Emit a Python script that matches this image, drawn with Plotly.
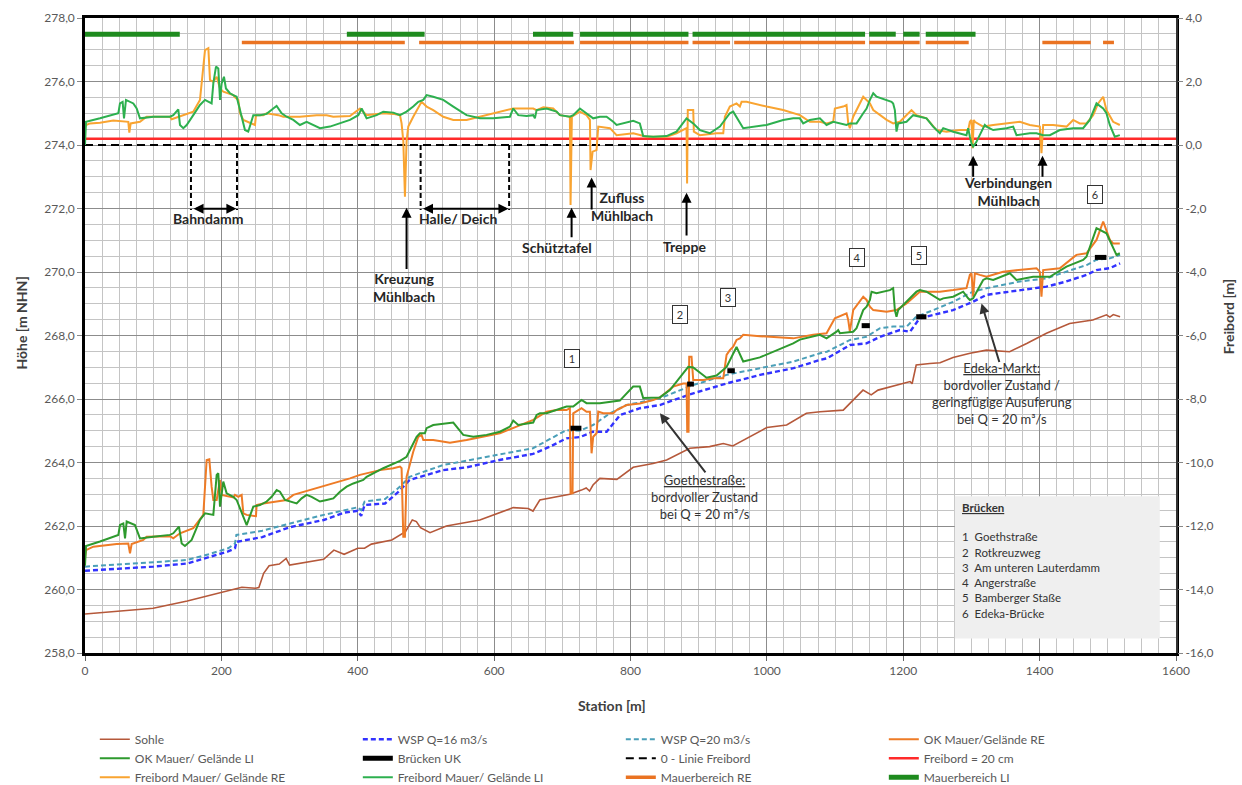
import plotly.graph_objects as go

# ---------------- DATA ----------------
SOHLE_X = [0, 50, 100, 150, 200, 220, 230, 250, 255, 262, 270, 285, 295, 300, 350, 365, 380, 400, 410, 420, 450, 470, 480, 486, 492, 506, 530, 579, 628, 650, 657, 667, 711, 728, 735, 740, 745, 755, 780, 804, 833, 853, 867, 887, 916, 936, 950, 975, 1000, 1029, 1058, 1078, 1112, 1141, 1153, 1163, 1190, 1210, 1213, 1219, 1239, 1254, 1273, 1298, 1322, 1356, 1381, 1410, 1444, 1478, 1498, 1503, 1508, 1518]
SOHLE_H = [259.23, 259.33, 259.41, 259.64, 259.91, 260.03, 260.07, 260.04, 260.06, 260.51, 260.75, 260.8, 260.98, 260.77, 260.95, 261.24, 261.11, 261.3, 261.3, 261.43, 261.56, 261.82, 262.19, 262.14, 261.95, 261.79, 262.0, 262.19, 262.58, 262.55, 262.47, 262.82, 263.0, 263.13, 263.2, 263.1, 263.29, 263.5, 263.47, 263.85, 263.97, 264.08, 264.24, 264.45, 264.5, 264.6, 264.52, 264.81, 265.1, 265.18, 265.55, 265.6, 265.65, 266.28, 266.13, 266.28, 266.44, 266.55, 266.48, 267.07, 267.12, 267.14, 267.31, 267.44, 267.54, 267.49, 267.75, 268.07, 268.38, 268.49, 268.65, 268.58, 268.66, 268.59]

WSP16_X = [0, 50, 100, 150, 180, 210, 220, 222, 260, 300, 350, 380, 400, 405, 410, 440, 460, 476, 525, 560, 608, 657, 682, 706, 726, 745, 765, 785, 814, 843, 892, 941, 990, 1039, 1078, 1088, 1122, 1146, 1166, 1180, 1195, 1210, 1219, 1224, 1273, 1302, 1322, 1371, 1410, 1439, 1469, 1483, 1503, 1518]
WSP16_H = [260.59, 260.66, 260.72, 260.82, 261.0, 261.2, 261.3, 261.5, 261.65, 261.96, 262.19, 262.42, 262.48, 262.32, 262.66, 262.71, 263.08, 263.45, 263.76, 263.85, 264.08, 264.27, 264.5, 264.76, 264.8, 264.97, 264.97, 265.5, 265.71, 265.81, 266.18, 266.49, 266.76, 266.97, 267.23, 267.28, 267.7, 267.75, 267.96, 268.07, 268.17, 268.12, 268.38, 268.54, 268.8, 269.06, 269.28, 269.43, 269.54, 269.7, 269.91, 270.06, 270.12, 270.27]

WSP20_X = [0, 50, 100, 150, 180, 210, 220, 222, 260, 300, 350, 400, 405, 410, 440, 462, 476, 525, 608, 657, 706, 726, 745, 770, 794, 843, 892, 941, 990, 1039, 1078, 1088, 1122, 1146, 1166, 1185, 1205, 1219, 1244, 1273, 1302, 1322, 1371, 1410, 1439, 1469, 1483, 1503, 1518]
WSP20_H = [260.72, 260.79, 260.85, 260.93, 261.1, 261.3, 261.45, 261.72, 261.85, 262.08, 262.35, 262.59, 262.5, 262.77, 262.85, 263.24, 263.55, 263.92, 264.24, 264.45, 265.02, 265.0, 265.18, 265.55, 265.81, 266.02, 266.44, 266.76, 266.97, 267.18, 267.44, 267.49, 267.86, 267.96, 268.23, 268.28, 268.28, 268.59, 268.8, 269.06, 269.38, 269.49, 269.7, 269.8, 270.01, 270.22, 270.38, 270.43, 270.54]

OK_LI_X = [0, 1.5, 22, 48.9, 51.3, 56.2, 58.7, 61.1, 73.3, 75.8, 80.6, 100.2, 124.6, 129.5, 137.8, 141.8, 146.6, 156.4, 168.6, 176, 188.2, 193.1, 195.5, 198, 202.8, 207.7, 217.5, 222.4, 237.1, 246.8, 256.6, 266.4, 273.7, 281.1, 285.9, 293.3, 303.1, 310.4, 317.7, 325, 332.4, 339.7, 344.6, 354.4, 364.2, 373.9, 383.7, 393.5, 408.1, 413, 437.4, 461.9, 471.6, 486.3, 491.2, 498.5, 500.9, 510.7, 535.2, 540.1, 554.7, 569.4, 588.9, 608.5, 623.2, 628, 635.4, 657.4, 662.3, 667.2, 676.9, 706.2, 716, 728.2, 735.5, 755.1, 784.4, 803.9, 813.7, 818.6, 843.1, 857.8, 884.7, 892, 911.5, 926.2, 940.9, 955.5, 965.3, 989.7, 1038.6, 1048.4, 1077.7, 1087.5, 1102.2, 1104.6, 1107.1, 1126.6, 1131.5, 1141.3, 1146.2, 1151.1, 1153.5, 1160.8, 1180.4, 1185.2, 1187.7, 1190.1, 1192.6, 1204.8, 1219.4, 1224.3, 1234.1, 1253.7, 1258.6, 1273.2, 1287.9, 1295.2, 1297.7, 1302.5, 1307.4, 1317.2, 1322.1, 1331.9, 1356.3, 1366.1, 1390.5, 1415, 1439.4, 1463.8, 1468.7, 1483.4, 1498, 1507.8, 1512.7, 1517.6]
OK_LI_H = [260.75, 261.37, 261.51, 261.72, 262.03, 262.08, 261.61, 262.14, 262.03, 261.87, 261.61, 261.66, 261.72, 261.77, 261.98, 261.45, 261.37, 261.56, 262.19, 262.4, 262.35, 263.61, 263.66, 262.61, 263.4, 263.03, 262.92, 262.82, 262.03, 262.61, 262.66, 262.77, 262.92, 263.13, 263.08, 262.82, 262.77, 262.71, 262.87, 262.98, 262.92, 262.82, 262.77, 262.82, 262.87, 263.08, 263.24, 263.34, 263.45, 263.55, 263.82, 264.05, 264.18, 264.81, 264.92, 264.92, 265.08, 265.18, 265.24, 265.26, 264.87, 264.81, 264.87, 264.97, 265.13, 265.32, 265.18, 265.26, 265.5, 265.55, 265.55, 265.76, 265.76, 265.97, 265.87, 265.87, 265.95, 266.39, 266.39, 266.03, 266.05, 266.28, 267.01, 266.99, 266.67, 266.74, 267.01, 267.64, 267.18, 267.31, 267.75, 267.87, 268.02, 267.91, 268.12, 268.17, 268.07, 268.12, 268.23, 268.8, 268.91, 269.12, 269.38, 269.33, 269.43, 269.49, 268.8, 268.59, 268.8, 269.07, 269.38, 269.43, 269.38, 269.12, 269.17, 269.22, 269.38, 269.17, 269.12, 269.17, 269.38, 269.75, 269.8, 269.75, 269.96, 269.75, 269.85, 269.85, 270.17, 270.38, 270.48, 271.38, 271.22, 270.75, 270.54, 270.59]

OK_RE_X = [0, 1.5, 12.2, 31.8, 46.4, 63.5, 66, 68.4, 85.5, 90.4, 105.1, 124.6, 129.5, 139.3, 158.8, 173.5, 178.4, 182.3, 185.7, 188.2, 193.1, 197.9, 200.4, 217.5, 219.9, 224.8, 229.7, 232.2, 237.1, 250.7, 251.7, 261.5, 281, 295.7, 305.5, 339.7, 364.1, 388.6, 403.2, 413, 432.6, 452.1, 461.9, 464.3, 466.8, 469.2, 471.6, 481.4, 488.8, 493.6, 496.1, 510.7, 535.2, 559.6, 584.1, 608.5, 632.9, 657.4, 676.9, 691.6, 706.2, 711.1, 712.1, 715, 716, 728.2, 735.5, 740.5, 742.9, 745.3, 750.2, 752.7, 760, 774.7, 779.6, 794.3, 813.8, 833.3, 843.1, 862.6, 877.3, 882.2, 883.2, 885.1, 886.1, 889.5, 892, 906.7, 921.3, 936, 940.9, 945.7, 950.6, 955.5, 960.4, 965.3, 989.7, 1038.6, 1067.9, 1087.5, 1099.7, 1116.8, 1119.3, 1121.7, 1126.6, 1141.3, 1146.2, 1151.1, 1156, 1175.6, 1190.1, 1204.8, 1224.3, 1239, 1253.7, 1273.2, 1292.7, 1297.7, 1300.1, 1302.5, 1305, 1312.3, 1322.1, 1346.5, 1371, 1395.4, 1400.3, 1402.7, 1405.2, 1429.6, 1454, 1468.7, 1483.4, 1493.2, 1503, 1507.8, 1517.6]
OK_RE_H = [261.0, 261.24, 261.35, 261.4, 261.43, 261.45, 261.14, 261.43, 261.56, 261.66, 261.66, 261.68, 261.61, 261.77, 261.93, 262.35, 264.08, 264.1, 263.24, 262.82, 262.82, 263.45, 262.98, 262.9, 262.98, 262.92, 262.98, 262.4, 262.35, 262.31, 262.66, 262.71, 262.77, 262.82, 262.98, 263.19, 263.34, 263.5, 263.61, 263.66, 263.76, 263.82, 263.87, 263.82, 261.66, 261.66, 263.55, 264.34, 264.81, 264.87, 264.71, 264.71, 264.62, 264.71, 264.81, 264.92, 265.13, 265.34, 265.6, 265.65, 265.65, 265.71, 263.03, 263.03, 265.55, 265.71, 265.6, 265.6, 264.29, 264.81, 264.92, 265.6, 265.55, 265.55, 265.65, 265.81, 265.86, 265.97, 266.05, 266.39, 266.49, 266.49, 264.97, 264.97, 267.33, 267.33, 266.6, 266.6, 266.65, 266.65, 267.39, 267.54, 267.65, 267.86, 267.91, 268.02, 267.98, 267.91, 268.02, 268.07, 268.54, 268.7, 268.49, 268.12, 268.8, 269.22, 269.12, 268.91, 268.8, 268.75, 268.8, 269.01, 269.38, 269.38, 269.38, 269.43, 269.49, 269.91, 269.96, 269.22, 269.96, 269.91, 269.85, 270.01, 270.06, 270.12, 270.01, 269.22, 270.06, 270.12, 270.54, 270.59, 271.01, 271.59, 271.01, 270.9, 270.9]

FB_RE_X = [0, 1.5, 7.3, 22, 41.5, 56.2, 63.5, 65, 67, 80.6, 90.4, 105.1, 124.6, 127.1, 139.3, 158.8, 168.6, 176, 180.9, 183.3, 188.2, 193.1, 198, 202.8, 217.5, 219.9, 224.8, 227.3, 232.2, 249.3, 250.7, 261.5, 266.4, 283.5, 290.8, 315.2, 339.7, 354.4, 364.1, 388.6, 403.2, 413, 437.4, 452.1, 461.9, 464.3, 466.8, 469.2, 471.6, 474.1, 481.4, 491.2, 493.6, 501, 510.7, 525.4, 540.1, 559.6, 579.2, 598.7, 618.3, 628, 657.4, 662.3, 672.1, 686.7, 696.5, 711.1, 712.1, 714, 725.8, 735.5, 740.5, 741.4, 744.4, 750.2, 752.7, 769.8, 774.7, 779.6, 804, 823.5, 852.9, 867.5, 882.2, 883, 884, 892, 892.9, 901.8, 926.2, 936, 938.4, 945.7, 955.5, 960.4, 962.9, 970.2, 999.5, 1023.9, 1048.4, 1063, 1077.7, 1087.5, 1097.3, 1099.7, 1111.9, 1116.8, 1119.3, 1121.7, 1126.6, 1141.3, 1151.1, 1156, 1175.6, 1185.2, 1195, 1204.8, 1212.1, 1219.4, 1234.1, 1248.8, 1263.4, 1283, 1295.2, 1297.7, 1300.1, 1301.6, 1303.5, 1305, 1317.2, 1331.9, 1351.4, 1371, 1385.6, 1400.3, 1402.7, 1405.2, 1419.8, 1439.4, 1449.2, 1458.9, 1468.7, 1478.5, 1485.8, 1493.2, 1498, 1507.8, 1517.6]
FB_RE_V = [0.55, 0.63, 0.68, 0.7, 0.77, 0.73, 0.73, 0.39, 0.68, 0.73, 0.89, 0.89, 0.89, 0.81, 0.91, 1.05, 1.42, 2.99, 3.05, 2.05, 1.99, 2.15, 1.78, 1.68, 1.57, 1.5, 1.42, 1.0, 0.79, 0.63, 0.94, 0.94, 1.0, 0.94, 0.89, 0.89, 0.94, 0.94, 0.89, 0.91, 1.15, 0.94, 1.0, 0.98, 0.94, 0.68, 0.12, -1.63, 0.12, 0.58, 0.89, 1.31, 1.36, 1.21, 1.1, 0.89, 0.79, 0.79, 0.89, 1.0, 1.1, 1.15, 1.15, 1.1, 1.19, 1.15, 0.94, 0.89, -1.89, 0.89, 1.05, 0.94, 0.79, -0.79, -0.21, -0.16, 0.58, 0.53, 0.42, 0.31, 0.37, 0.26, 0.26, 0.37, 0.53, -1.21, 1.1, 1.1, 0.42, 0.31, 0.37, 0.37, 0.89, 1.21, 1.31, 1.21, 1.36, 1.36, 1.21, 1.1, 0.94, 0.73, 0.73, 0.68, 0.73, 1.15, 1.21, 1.26, 0.68, 0.53, 0.89, 1.52, 1.31, 1.1, 0.79, 0.68, 0.73, 0.94, 1.1, 0.94, 0.84, 0.47, 0.42, 0.47, 0.47, 0.73, 0.79, -0.1, 0.79, 0.73, 0.58, 0.63, 0.68, 0.73, 0.63, 0.58, -0.26, 0.63, 0.63, 0.58, 0.79, 0.68, 0.68, 0.94, 1.31, 1.52, 1.1, 0.73, 0.63]

FB_LI_X = [0, 1.5, 22, 41.5, 48.9, 51.3, 55.2, 57.2, 60.1, 70.9, 75.8, 80.6, 100.2, 124.6, 129.5, 136.8, 139.3, 144.2, 149.1, 158.8, 168.6, 176, 185.7, 188.2, 192.1, 195.5, 198, 200.4, 203.8, 206.7, 212.6, 217.5, 222.4, 227.3, 234.6, 239.4, 246.8, 256.6, 266.4, 276.1, 281, 288.4, 295.7, 305.5, 315.2, 325, 334.8, 344.6, 359.2, 373.9, 388.6, 400.8, 405.7, 413, 427.7, 437.4, 452.1, 461.9, 471.6, 481.4, 488.8, 496.1, 501, 510.7, 525.4, 540.1, 559.6, 579.2, 598.7, 623.2, 628, 635.4, 647.6, 657.4, 659.8, 662.3, 676.9, 691.6, 696.5, 711.1, 716, 725.8, 735.5, 745.3, 755.1, 764.9, 774.7, 779.6, 804, 813.7, 818.6, 833.3, 852.9, 867.5, 882.2, 892, 901.8, 916.4, 931.1, 945.7, 950.6, 965.3, 999.5, 1023.9, 1038.6, 1048.4, 1053.3, 1063, 1077.7, 1087.5, 1097.3, 1107.1, 1116.8, 1121.7, 1131.5, 1141.3, 1146.2, 1151.1, 1156, 1160.8, 1175.6, 1182.8, 1185.2, 1187.7, 1190.1, 1192.6, 1204.8, 1214.6, 1224.3, 1234.1, 1243.9, 1253.7, 1258.6, 1273.2, 1292.7, 1295.2, 1297.7, 1300.1, 1302.5, 1307.4, 1317.2, 1319.6, 1322.1, 1331.9, 1351.4, 1361.2, 1366.1, 1385.6, 1395.4, 1405.2, 1415, 1429.6, 1449.2, 1463.8, 1473.6, 1483.4, 1493.2, 1498, 1502.9, 1510.2, 1517.6]
FB_LI_V = [0.0, 0.73, 0.84, 0.94, 1.0, 1.31, 1.36, 0.84, 1.42, 1.31, 1.15, 0.84, 0.89, 0.89, 0.94, 1.12, 0.63, 0.53, 0.63, 0.94, 1.26, 1.42, 1.31, 1.94, 2.47, 2.41, 1.42, 1.94, 2.15, 1.78, 1.63, 1.57, 1.52, 1.1, 0.47, 0.42, 0.94, 0.94, 0.98, 1.15, 1.23, 1.0, 0.89, 0.79, 0.63, 0.73, 0.63, 0.53, 0.58, 0.68, 0.79, 0.94, 1.15, 0.84, 0.94, 1.05, 1.02, 0.94, 1.05, 1.21, 1.36, 1.42, 1.57, 1.52, 1.42, 1.21, 0.94, 0.84, 0.84, 0.89, 1.15, 0.94, 0.91, 0.94, 0.84, 1.1, 1.15, 1.05, 0.94, 0.89, 0.94, 1.15, 1.0, 0.84, 0.89, 0.89, 0.73, 0.63, 0.76, 0.68, 0.28, 0.26, 0.28, 0.42, 0.84, 0.68, 0.47, 0.37, 0.58, 1.0, 1.05, 0.53, 0.63, 0.79, 0.84, 0.84, 0.68, 0.79, 0.84, 0.63, 0.73, 0.68, 0.63, 0.68, 0.68, 1.0, 1.15, 1.42, 1.63, 1.52, 1.42, 1.36, 1.31, 1.1, 0.42, 0.68, 0.73, 0.94, 0.89, 0.84, 0.58, 0.37, 0.53, 0.42, 0.31, 0.53, 0.26, 0.05, -0.05, 0.1, 0.53, 0.63, 0.58, 0.47, 0.53, 0.58, 0.31, 0.37, 0.37, 0.31, 0.31, 0.47, 0.53, 0.53, 0.79, 1.31, 1.15, 1.0, 0.63, 0.26, 0.31]

MAUER_RE_SEGMENTS = [(230, 469), (490, 717), (726, 885), (891, 946), (952, 1144), (1150, 1224), (1233, 1296), (1404, 1475), (1493, 1509)]
MAUER_RE_LEVEL = 3.23
MAUER_LI_SEGMENTS = [(0, 139), (384, 498), (657, 716), (726, 885), (891, 1144), (1150, 1189), (1200, 1224), (1233, 1306)]
MAUER_LI_LEVEL = 3.49

BRUECKE_X0 = [712, 883, 942, 1139, 1219, 1481]
BRUECKE_X1 = [728, 893, 953, 1151, 1234, 1498]
BRUECKE_H = [265.08, 266.47, 266.89, 268.31, 268.59, 270.46]
BRUECKE_NR = ["1", "2", "3", "4", "5", "6"]
BRUECKE_NAMES = ["Goethstraße", "Rotkreuzweg", "Am unteren Lauterdamm", "Angerstraße", "Bamberger Staße", "Edeka-Brücke"]

FREIBORD_LIMIT = 0.2
NULL_LINE = 0.0
STATION_RANGE = [0, 1600]

Y_TICKS = [258, 260, 262, 264, 266, 268, 270, 272, 274, 276, 278]
Y_TICKTEXT = ["258,0", "260,0", "262,0", "264,0", "266,0", "268,0", "270,0", "272,0", "274,0", "276,0", "278,0"]
Y2_TICKS = [-16, -14, -12, -10, -8, -6, -4, -2, 0, 2, 4]
Y2_TICKTEXT = ["-16,0", "-14,0", "-12,0", "-10,0", "-8,0", "-6,0", "-4,0", "-2,0", "0,0", "2,0", "4,0"]
X_TICKS = [0, 200, 400, 600, 800, 1000, 1200, 1400, 1600]

# ---------------- FIGURE ----------------
FONT = "Lato"
TXT = "#262626"


def segments(pairs, level):
    xs, ys = [], []
    for a, b in pairs:
        xs += [a, b, None]
        ys += [level, level, None]
    return xs, ys


fig = go.Figure()

fig.add_trace(go.Scatter(x=SOHLE_X, y=SOHLE_H, mode="lines", name="Sohle",
                         line=dict(color="#B5583A", width=1.6)))
fig.add_trace(go.Scatter(x=WSP16_X, y=WSP16_H, mode="lines", name="WSP Q=16 m3/s",
                         line=dict(color="#3232FF", width=2.4, dash="5px,3px")))
fig.add_trace(go.Scatter(x=WSP20_X, y=WSP20_H, mode="lines", name="WSP Q=20 m3/s",
                         line=dict(color="#4A9FB8", width=2.0, dash="5px,3px")))
fig.add_trace(go.Scatter(x=OK_RE_X, y=OK_RE_H, mode="lines", name="OK Mauer/Gelände RE",
                         line=dict(color="#EE7B26", width=2.0)))
fig.add_trace(go.Scatter(x=OK_LI_X, y=OK_LI_H, mode="lines", name="OK Mauer/ Gelände LI",
                         line=dict(color="#2E9A2E", width=2.0)))

bx, by = [], []
for a, b, h in zip(BRUECKE_X0, BRUECKE_X1, BRUECKE_H):
    bx += [a, b, None]
    by += [h, h, None]
fig.add_trace(go.Scatter(x=bx, y=by, mode="lines", name="Brücken UK",
                         line=dict(color="black", width=5)))

fig.add_trace(go.Scatter(x=STATION_RANGE, y=[NULL_LINE, NULL_LINE], mode="lines",
                         name="0 - Linie Freibord", yaxis="y2",
                         line=dict(color="black", width=2, dash="8px,5px")))
fig.add_trace(go.Scatter(x=STATION_RANGE, y=[FREIBORD_LIMIT, FREIBORD_LIMIT], mode="lines",
                         name="Freibord = 20 cm", yaxis="y2",
                         line=dict(color="#FF2A2A", width=2.5)))
fig.add_trace(go.Scatter(x=FB_RE_X, y=FB_RE_V, mode="lines", name="Freibord Mauer/ Gelände RE",
                         yaxis="y2", line=dict(color="#F9A431", width=2.0)))
fig.add_trace(go.Scatter(x=FB_LI_X, y=FB_LI_V, mode="lines", name="Freibord Mauer/ Gelände LI",
                         yaxis="y2", line=dict(color="#2DB04F", width=2.0)))

mx, my = segments(MAUER_RE_SEGMENTS, MAUER_RE_LEVEL)
fig.add_trace(go.Scatter(x=mx, y=my, mode="lines", name="Mauerbereich RE", yaxis="y2",
                         line=dict(color="#EA7322", width=3.5)))
mx, my = segments(MAUER_LI_SEGMENTS, MAUER_LI_LEVEL)
fig.add_trace(go.Scatter(x=mx, y=my, mode="lines", name="Mauerbereich LI", yaxis="y2",
                         line=dict(color="#1E8B1E", width=5)))

shapes = []
# dashed brackets
for xa in (155.4, 222.9, 492.2, 622.0):
    shapes.append(dict(type="line", xref="x", yref="y", x0=xa, x1=xa, y0=274.0, y1=271.95,
                       line=dict(color="black", width=2, dash="5px,3px")))
# Brücken box
shapes.append(dict(type="rect", xref="x", yref="y", x0=1275.7, x1=1576.2, y0=258.46, y1=262.94,
                   fillcolor="#EFEFEF", line=dict(width=0), layer="above"))

ann = []


def arrow(xh, yh, xt, yt, both=False, width=2, color="black"):
    d = dict(x=xh, y=yh, ax=xt, ay=yt, xref="x", yref="y", axref="x", ayref="y",
             text="", showarrow=True, arrowhead=2, arrowsize=1, arrowwidth=width,
             arrowcolor=color, standoff=0, startstandoff=0)
    if both:
        d["arrowside"] = "end+start"
        d["startarrowhead"] = 2
        d["startarrowsize"] = 1
    ann.append(d)


def label(x, y, text, size=14, bold=True, align="center", xanchor="center", color=TXT):
    t = f"<b>{text}</b>" if bold else text
    ann.append(dict(x=x, y=y, xref="x", yref="y", text=t, showarrow=False, align=align,
                    xanchor=xanchor, yanchor="middle",
                    font=dict(family=FONT, size=size, color=color)))


arrow(222.0, 271.99, 157.0, 271.99, both=True)
arrow(621.0, 271.99, 493.5, 271.99, both=True)
label(180.4, 271.68, "Bahndamm")
label(547.5, 271.68, "Halle/ Deich")
arrow(471.6, 272.02, 471.6, 270.05)
label(467.7, 269.52, "Kreuzung<br>Mühlbach")
arrow(713.6, 272.02, 713.6, 271.05)
label(692.0, 270.78, "Schütztafel")
arrow(743.0, 272.98, 743.0, 271.92)
label(787.4, 272.05, "Zufluss<br>Mühlbach")
arrow(882.2, 272.5, 882.2, 271.1)
label(879.8, 270.80, "Treppe")
arrow(1302.5, 273.66, 1302.5, 272.95)
arrow(1404.2, 273.66, 1404.2, 272.95)
label(1353.4, 272.52, "Verbindungen<br>Mühlbach")

# bridge number boxes
BOX_POS = [(713.6, 267.29), (873.3, 268.67), (942.8, 269.20), (1132.2, 270.46), (1223.1, 270.52), (1481.7, 272.45)]
for nr, (bxp, byp) in zip(BRUECKE_NR, BOX_POS):
    ann.append(dict(x=bxp, y=byp, xref="x", yref="y", text=nr, showarrow=False,
                    xanchor="center", yanchor="middle",
                    font=dict(family=FONT, size=11, color="#333333"), bgcolor="white",
                    bordercolor="#333333", borderwidth=1, borderpad=2, width=10))

# Goethestrasse / Edeka
arrow(843.1, 265.55, 911.6, 263.64, width=2, color="#333333")
label(909.0, 262.91, "<u>Goethestraße:</u><br>bordvoller Zustand<br>bei Q = 20 m³/s", size=13,
      bold=False, color="#333333")
arrow(1314.8, 269.01, 1341.6, 267.12, width=2, color="#333333")
label(1344.1, 266.18, "<u>Edeka-Markt:</u><br>bordvoller Zustand /<br>geringfügige Ausuferung<br>bei Q = 20 m³/s",
      size=13, bold=False, color="#333333")

# Brücken list
label(1283.0, 262.58, "<u>Brücken</u>", size=11.5, bold=True, align="left", xanchor="left", color="#333333")
LIST_Y = [261.67, 261.18, 260.70, 260.23, 259.75, 259.26]
for nr, name, yy in zip(BRUECKE_NR, BRUECKE_NAMES, LIST_Y):
    label(1283.0, yy, f"{nr}\u00a0\u00a0{name}", size=11.5, bold=False, align="left",
          xanchor="left", color="#333333")

# axis titles
ann.append(dict(x=-0.058, y=0.52, xref="paper", yref="paper", text="<b>Höhe [m NHN]</b>",
                textangle=-90, showarrow=False, xanchor="center", yanchor="middle",
                font=dict(family=FONT, size=14, color="#404040")))
ann.append(dict(x=1.0485, y=0.53, xref="paper", yref="paper", text="<b>Freibord [m]</b>",
                textangle=-90, showarrow=False, xanchor="center", yanchor="middle",
                font=dict(family=FONT, size=14, color="#404040")))
ann.append(dict(x=0.483, y=-0.083, xref="paper", yref="paper", text="<b>Station [m]</b>",
                showarrow=False, xanchor="center", yanchor="middle",
                font=dict(family=FONT, size=14, color="#404040")))

fig.update_layout(
    width=1242, height=785,
    margin=dict(l=85, r=66, t=18, b=132, autoexpand=False),
    paper_bgcolor="white", plot_bgcolor="white",
    font=dict(family=FONT, size=12, color="#595959"),
    shapes=shapes, annotations=ann,
    showlegend=True,
    legend=dict(orientation="h", x=0.009, y=-0.113, xanchor="left", yanchor="top",
                entrywidth=218, entrywidthmode="pixels", traceorder="normal",
                font=dict(family=FONT, size=12, color="#595959"), itemwidth=30,
                bgcolor="rgba(0,0,0,0)", tracegroupgap=0),
    xaxis=dict(range=STATION_RANGE, tickvals=X_TICKS, showgrid=True, gridcolor="#8C8C8C",
               gridwidth=1, zeroline=False, showline=True, linecolor="black", linewidth=2.5,
               mirror=True, ticks="outside", ticklen=5, tickcolor="#666666",
               tickfont=dict(family=FONT, size=12, color="#595959"),
               minor=dict(dtick=25, showgrid=True, gridcolor="#C4C4C4", gridwidth=1)),
    yaxis=dict(range=[258, 278], tickvals=Y_TICKS, ticktext=Y_TICKTEXT, showgrid=True,
               gridcolor="#8C8C8C", gridwidth=1, zeroline=False, showline=True,
               linecolor="black", linewidth=2.5, mirror=True, ticks="outside", ticklen=5,
               tickcolor="#888888", tickfont=dict(family=FONT, size=12, color="#595959"),
               minor=dict(dtick=0.5, showgrid=True, gridcolor="#C4C4C4", gridwidth=1)),
    yaxis2=dict(range=[-16, 4], overlaying="y", side="right", tickvals=Y2_TICKS,
                ticktext=Y2_TICKTEXT, showgrid=False, zeroline=False, showline=True,
                linecolor="#333333", linewidth=2, ticks="outside", ticklen=5,
                tickcolor="#888888", tickfont=dict(family=FONT, size=12, color="#595959")),
)

fig.write_html("out.html")
